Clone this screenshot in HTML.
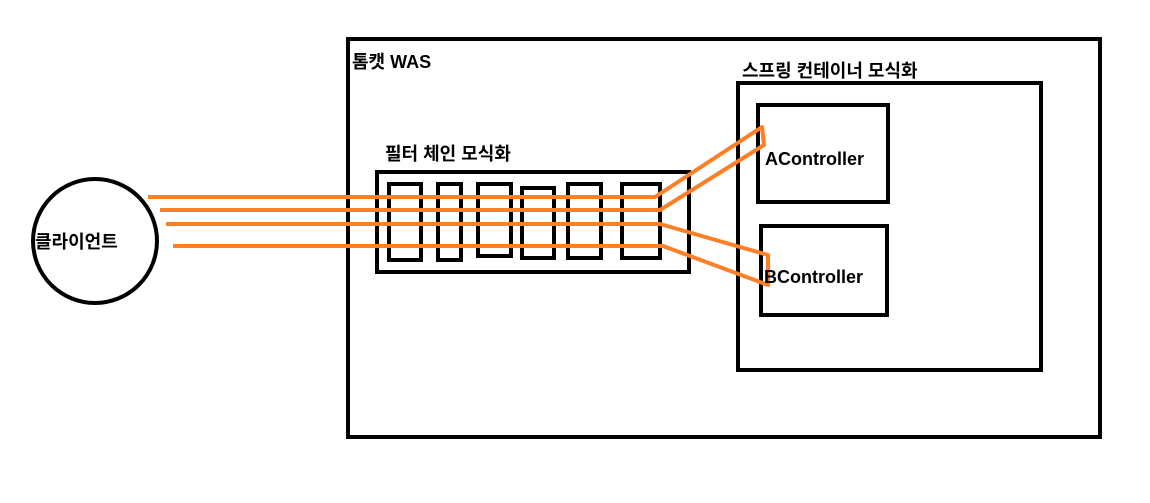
<!DOCTYPE html>
<html><head><meta charset="utf-8"><style>
body{margin:0;background:#fff;width:1150px;height:498px;overflow:hidden}
text{font-family:"Liberation Sans","Noto Sans CJK KR",sans-serif;fill:#000}
</style></head><body>
<svg width="1150" height="498" xmlns="http://www.w3.org/2000/svg">
<g fill="none" stroke="#000" stroke-width="4">
<rect x="348" y="39" width="752" height="398"/>
<rect x="738" y="83" width="303" height="287"/>
<rect x="758" y="105" width="130" height="97"/>
<rect x="761" y="226" width="126" height="89"/>
<rect x="377" y="172" width="312" height="100"/>
<rect x="389" y="184" width="32" height="76"/>
<rect x="438" y="184" width="23" height="76"/>
<rect x="478" y="184" width="33" height="72"/>
<rect x="522" y="188" width="32" height="70"/>
<rect x="568" y="184" width="33" height="74"/>
<rect x="622" y="184" width="38" height="74"/>
<circle cx="95" cy="241" r="62"/>
</g>
<g fill="none" stroke="#ff7f27" stroke-width="4" stroke-linejoin="round">
<polyline points="148,197 655,197 762,127 764,145 660,210 160,210"/>
<polyline points="166,224 660,224 768,255 768,285 663,246 173,246"/>
</g>
<text x="352" y="68" font-size="18" font-weight="bold">톰캣 WAS</text>
<text x="742" y="77" font-size="18" font-weight="bold">스프링 컨테이너 모식화</text>
<text x="385" y="160" font-size="18" font-weight="bold">필터 체인 모식화</text>
<text x="765" y="165" font-size="18" font-weight="bold">AController</text>
<text x="764" y="283" font-size="18" font-weight="bold">BController</text>
<text x="35" y="248" font-size="18" font-weight="bold">클라이언트</text>
</svg>
</body></html>
